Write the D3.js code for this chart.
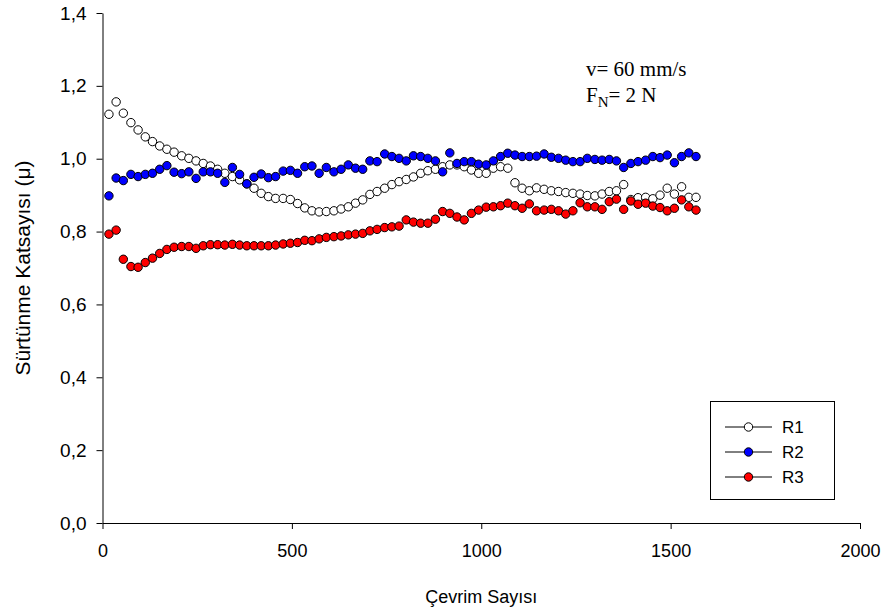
<!DOCTYPE html>
<html>
<head>
<meta charset="utf-8">
<script src="https://cdn.jsdelivr.net/npm/d3@7"></script>
<style>
  html, body { margin: 0; padding: 0; background: #fff; }
  svg { display: block; }
  .axis text { font-family: Arial, "Liberation Sans", sans-serif; font-size: 18px; fill: #000; }
  .axis.y text { font-size: 19px; }
  .axis path, .axis line { stroke: #000; stroke-width: 1; }
</style>
</head>
<body>
<svg id="chart" width="889" height="614"></svg>
<script>
// Number of cycles at each sample
const cycles = [17, 36, 55, 75, 94, 113, 132, 151, 170, 189,
  209, 228, 247, 266, 285, 304, 323, 343, 362, 381,
  400, 419, 438, 457, 477, 496, 515, 534, 553, 572,
  591, 611, 630, 649, 668, 687, 706, 725, 745, 764,
  783, 802, 821, 840, 859, 879, 898, 917, 936, 955,
  974, 993, 1013, 1032, 1051, 1070, 1089, 1108, 1127, 1146,
  1166, 1185, 1204, 1223, 1242, 1261, 1280, 1300, 1319, 1338,
  1357, 1376, 1395, 1414, 1434, 1453, 1472, 1491, 1510, 1529,
  1548, 1567];

// Friction coefficient, run R1
const r1 = [1.122, 1.156, 1.125, 1.099, 1.079, 1.060, 1.047, 1.035, 1.026, 1.018,
  1.008, 1.001, 0.994, 0.987, 0.980, 0.971, 0.960, 0.951, 0.942, 0.931,
  0.919, 0.905, 0.896, 0.891, 0.891, 0.888, 0.877, 0.865, 0.857, 0.854,
  0.855, 0.857, 0.862, 0.868, 0.878, 0.887, 0.902, 0.910, 0.919, 0.929,
  0.937, 0.943, 0.950, 0.960, 0.967, 0.971, 0.978, 0.983, 0.983, 0.978,
  0.969, 0.960, 0.960, 0.974, 0.978, 0.974, 0.934, 0.919, 0.912, 0.920,
  0.916, 0.912, 0.910, 0.907, 0.905, 0.903, 0.899, 0.898, 0.903, 0.910,
  0.912, 0.929, 0.888, 0.893, 0.894, 0.890, 0.900, 0.919, 0.903, 0.923,
  0.894, 0.894];

// Friction coefficient, run R2
const r2 = [0.898, 0.947, 0.940, 0.957, 0.951, 0.957, 0.960, 0.971, 0.981, 0.963,
  0.959, 0.964, 0.946, 0.964, 0.964, 0.960, 0.935, 0.976, 0.957, 0.931,
  0.949, 0.958, 0.948, 0.951, 0.966, 0.968, 0.960, 0.978, 0.980, 0.960,
  0.976, 0.964, 0.971, 0.983, 0.974, 0.971, 0.994, 0.992, 1.013, 1.006,
  1.001, 0.994, 1.008, 1.006, 1.001, 0.994, 0.964, 1.016, 0.987, 0.992,
  0.992, 0.985, 0.983, 0.994, 1.006, 1.015, 1.010, 1.006, 1.006, 1.007,
  1.013, 1.004, 1.001, 0.996, 0.992, 0.992, 1.001, 0.998, 0.996, 0.998,
  0.994, 0.976, 0.987, 0.992, 0.996, 1.006, 1.003, 1.010, 0.989, 1.006,
  1.016, 1.006];

// Friction coefficient, run R3
const r3 = [0.793, 0.804, 0.724, 0.704, 0.702, 0.715, 0.727, 0.740, 0.751, 0.757,
  0.759, 0.759, 0.754, 0.761, 0.764, 0.764, 0.763, 0.765, 0.763, 0.761,
  0.761, 0.761, 0.761, 0.763, 0.766, 0.768, 0.770, 0.776, 0.775, 0.780,
  0.784, 0.786, 0.788, 0.791, 0.793, 0.795, 0.802, 0.806, 0.811, 0.813,
  0.815, 0.832, 0.826, 0.823, 0.823, 0.834, 0.855, 0.850, 0.840, 0.832,
  0.850, 0.859, 0.867, 0.868, 0.871, 0.878, 0.871, 0.864, 0.876, 0.857,
  0.859, 0.861, 0.857, 0.848, 0.857, 0.879, 0.868, 0.868, 0.861, 0.882,
  0.889, 0.861, 0.884, 0.875, 0.878, 0.870, 0.866, 0.857, 0.864, 0.887,
  0.868, 0.859];

const seriesNames = ["R1", "R2", "R3"];
const seriesColors = ["#ffffff", "#0000ff", "#ff0000"];
const xTicks = [0, 500, 1000, 1500, 2000];
const yTicks = [0, 0.2, 0.4, 0.6, 0.8, 1.0, 1.2, 1.4];

const svg = d3.select("#chart");

const x = d3.scaleLinear().domain([0, 2000]).range([102.5, 860]);
const y = d3.scaleLinear().domain([0, 1.4]).range([523, 13]);

const commaFmt = v => d3.format(".1f")(v).replace(".", ",");
const sans = "Arial, 'Liberation Sans', sans-serif";

// Axes
svg.append("g")
  .attr("class", "axis x")
  .attr("transform", `translate(0,${y(0)})`)
  .call(d3.axisBottom(x).tickValues(xTicks).tickFormat(d3.format("d"))
    .tickSize(6).tickSizeOuter(0).tickPadding(15));

svg.append("g")
  .attr("class", "axis y")
  .attr("transform", `translate(${x(0)},0)`)
  .call(d3.axisLeft(y).tickValues(yTicks).tickFormat(commaFmt)
    .tickSize(6).tickSizeOuter(0).tickPadding(10));

// Axis titles
svg.append("text")
  .attr("x", (x(0) + x(2000)) / 2)
  .attr("y", 603)
  .attr("text-anchor", "middle")
  .style("font-family", sans)
  .style("font-size", "18px")
  .text("Çevrim Sayısı");

svg.append("text")
  .attr("transform", `translate(30,${(y(0) + y(1.4)) / 2}) rotate(-90)`)
  .attr("text-anchor", "middle")
  .style("font-family", sans)
  .style("font-size", "21px")
  .text("Sürtünme Katsayısı (μ)");

// Scatter series
const allSeries = [r1, r2, r3];
const radius = 4.2;
allSeries.forEach((vals, i) => {
  svg.append("g")
    .selectAll("circle")
    .data(vals.map((v, j) => ({ c: cycles[j], v })))
    .join("circle")
    .attr("cx", d => x(d.c))
    .attr("cy", d => y(d.v))
    .attr("r", radius)
    .attr("fill", seriesColors[i])
    .attr("stroke", "#000")
    .attr("stroke-width", 1);
});

// Test conditions
const note = svg.append("g")
  .style("font-family", "'Times New Roman', 'Liberation Serif', serif")
  .style("font-size", "21px");
note.append("text").attr("x", 586).attr("y", 76).text("v= 60 mm/s");
const fn = note.append("text").attr("x", 586).attr("y", 102);
fn.append("tspan").text("F");
fn.append("tspan").attr("dy", 5).style("font-size", "15px").text("N");
fn.append("tspan").attr("dy", -5).text("= 2 N");

// Legend
const legend = svg.append("g");
legend.append("rect")
  .attr("x", 710.5).attr("y", 401.5)
  .attr("width", 124).attr("height", 98)
  .attr("fill", "#fff").attr("stroke", "#000").attr("stroke-width", 1);
seriesNames.forEach((name, i) => {
  const ly = 427 + i * 25;
  legend.append("line")
    .attr("x1", 725).attr("x2", 772).attr("y1", ly).attr("y2", ly)
    .attr("stroke", "#000").attr("stroke-width", 1);
  legend.append("circle")
    .attr("cx", 748.5).attr("cy", ly).attr("r", radius)
    .attr("fill", seriesColors[i]).attr("stroke", "#000").attr("stroke-width", 1);
  legend.append("text")
    .attr("x", 782).attr("y", ly + 6)
    .style("font-family", sans)
    .style("font-size", "17px")
    .text(name);
});
</script>
</body>
</html>
